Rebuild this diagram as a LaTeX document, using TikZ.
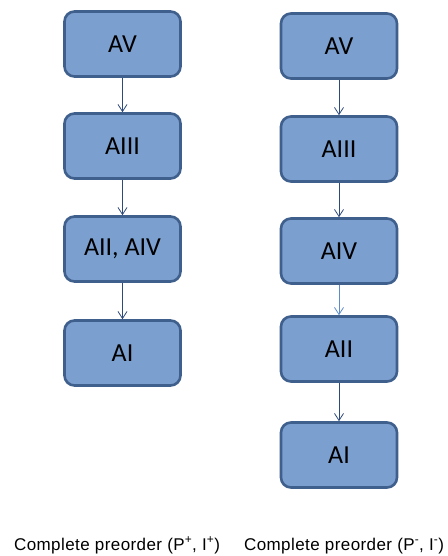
\documentclass[tikz,border=0pt]{standalone}
\usepackage{fontspec}
\setmainfont{Carlito}
\newfontfamily\arialf[LetterSpace=2.5]{Liberation Sans}
\usetikzlibrary{arrows.meta}
\definecolor{boxfill}{HTML}{7B9FCF}
\definecolor{boxline}{HTML}{3F5F8C}
\definecolor{arr}{HTML}{2E4A7A}
\definecolor{arrlight}{HTML}{5B8BC8}
\tikzset{
  stepbox/.style={draw=boxline, fill=boxfill, line width=2.6pt, rounded corners=10pt,
    minimum width=116pt, minimum height=65pt, inner sep=0pt,
    font=\fontsize{26}{30}\selectfont, text=black},
  conn/.style={draw=arr, line width=0.9pt, -{Straight Barb[length=7pt,width=9pt,line width=0.8pt]}},
  caption/.style={font=\arialf\fontsize{17}{20}\selectfont, text=black, inner sep=0pt, anchor=base}
}
\begin{document}
\begin{tikzpicture}[x=1pt,y=-1pt]
\useasboundingbox (0,0) rectangle (447,556);
% left column
\node[stepbox] (l5) at (122.5,44) {AV};
\node[stepbox] (l3) at (122.5,146) {AIII};
\node[stepbox] (l24) at (122.5,249) {AII, AIV};
\node[stepbox] (l1) at (122.5,353) {AI};
\draw[conn] (l5) -- (l3);
\draw[conn] (l3) -- (l24);
\draw[conn] (l24) -- (l1);
% right column
\node[stepbox] (r5) at (339,46) {AV};
\node[stepbox] (r3) at (339,149) {AIII};
\node[stepbox] (r4) at (339,251) {AIV};
\node[stepbox] (r2) at (339,349) {AII};
\node[stepbox] (r1) at (339,455) {AI};
\draw[conn] (r5) -- (r3);
\draw[conn] (r3) -- (r4);
\draw[conn, draw=arrlight] (r4) -- (r2);
\draw[conn] (r2) -- (r1);
% captions
\node[caption] (cl) at (117,550) {Complete preorder (P\textsuperscript{+}, I\textsuperscript{+})};
\node[caption] (cr) at (344,550) {Complete preorder (P\textsuperscript{-}, I\textsuperscript{-})};
\end{tikzpicture}
\end{document}
